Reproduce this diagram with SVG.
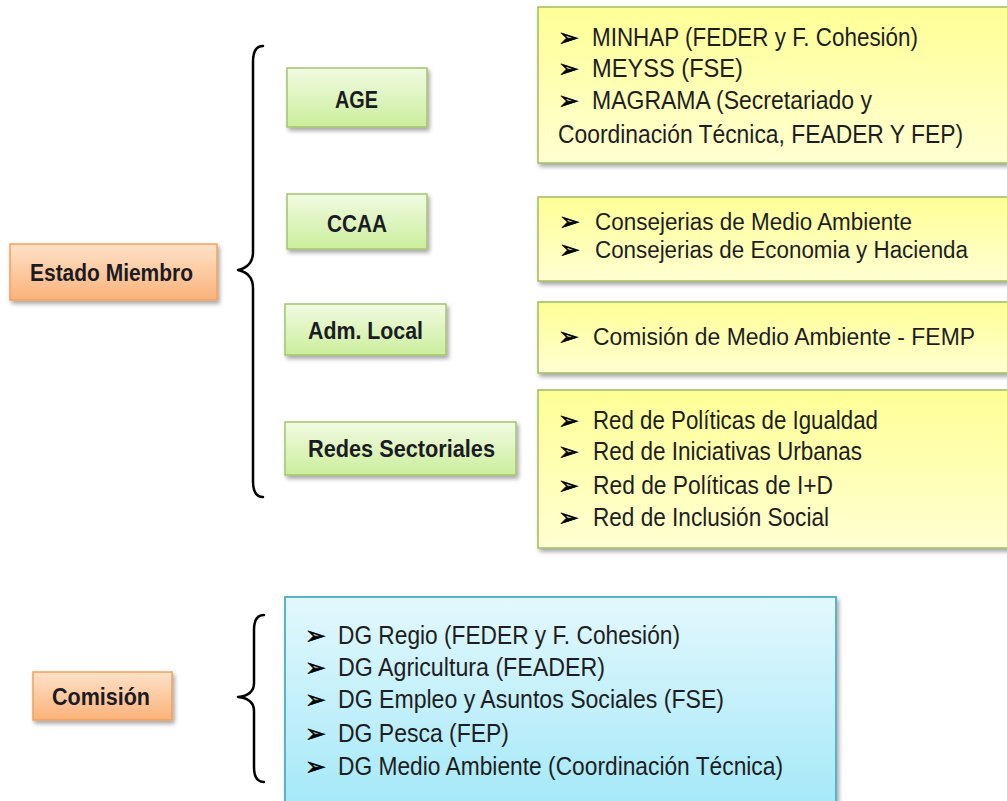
<svg xmlns="http://www.w3.org/2000/svg" width="1007" height="801" viewBox="0 0 1007 801">
  <defs>
    <linearGradient id="gOrange" x1="0" y1="0" x2="0" y2="1">
      <stop offset="0" stop-color="#fde2c8"/>
      <stop offset="1" stop-color="#fbb27a"/>
    </linearGradient>
    <linearGradient id="gGreen" x1="0" y1="0" x2="0" y2="1">
      <stop offset="0" stop-color="#f1fbe2"/>
      <stop offset="1" stop-color="#cbee9c"/>
    </linearGradient>
    <linearGradient id="gYellow" x1="0" y1="0" x2="0" y2="1">
      <stop offset="0" stop-color="#ffff96"/>
      <stop offset="1" stop-color="#ffffd2"/>
    </linearGradient>
    <linearGradient id="gBlue" x1="0" y1="0" x2="0" y2="1">
      <stop offset="0" stop-color="#e3f8fd"/>
      <stop offset="1" stop-color="#a3e8f8"/>
    </linearGradient>
    <filter id="shadow" x="-10%" y="-20%" width="125%" height="150%">
      <feDropShadow dx="2" dy="3" stdDeviation="2" flood-color="#000" flood-opacity="0.35"/>
    </filter>
  </defs>
  <style>
    .orange { fill: url(#gOrange); stroke: #f4a05a; stroke-width: 1.5; filter: url(#shadow); }
    .green { fill: url(#gGreen); stroke: #a5c46c; stroke-width: 1.5; filter: url(#shadow); }
    .yellow { fill: url(#gYellow); stroke: #9fbc62; stroke-width: 1.5; filter: url(#shadow); }
    .blue { fill: url(#gBlue); stroke: #5ab4c9; stroke-width: 2; filter: url(#shadow); }
    .lbl { font-family: "Liberation Sans", Arial, sans-serif; font-weight: bold; font-size: 23px; fill: #1b1b24; }
    .item { font-family: "Liberation Sans", Arial, sans-serif; font-size: 25px; fill: #1e1e22; }
    .item.sm { font-size: 23.5px; }
    .bul { font-family: "DejaVu Sans", sans-serif; font-size: 25px; fill: #000; stroke: #000; stroke-width: 0.6; }
    .brace { fill: none; stroke: #000; stroke-width: 2.5; stroke-linecap: round; stroke-linejoin: round; }
  </style>
  <rect width="1007" height="801" fill="#ffffff"/>

  <g id="connectors">
    <path class="brace" d="M263,46 C256,46 253,51 253,62 L253,252 C253,263 247,268 238,270 C247,272 253,277 253,288 L253,481 C253,492 256,497 263,497"/>
    <path class="brace" d="M264,615 C257,615 254,620 254,630 L254,683 C254,692 248,696 238,697 C248,698 254,702 254,711 L254,767 C254,777 257,782 264,782"/>
  </g>

  <g id="estado-miembro">
    <rect class="orange" x="10" y="244" width="207" height="56"/>
    <text class="lbl" x="30" y="281" textLength="163" lengthAdjust="spacingAndGlyphs">Estado Miembro</text>
  </g>

  <g id="comision">
    <rect class="orange" x="33" y="672" width="139" height="48"/>
    <text class="lbl" x="52" y="705" textLength="98" lengthAdjust="spacingAndGlyphs">Comisión</text>
  </g>

  <g id="age">
    <rect class="green" x="287" y="68" width="140" height="59"/>
    <text class="lbl" x="335" y="108" textLength="43" lengthAdjust="spacingAndGlyphs">AGE</text>
  </g>

  <g id="ccaa">
    <rect class="green" x="287" y="194" width="140" height="55"/>
    <text class="lbl" x="327" y="232" textLength="60" lengthAdjust="spacingAndGlyphs">CCAA</text>
  </g>

  <g id="adm-local">
    <rect class="green" x="285" y="304" width="161" height="51"/>
    <text class="lbl" x="308" y="339" textLength="115" lengthAdjust="spacingAndGlyphs">Adm. Local</text>
  </g>

  <g id="redes-sectoriales">
    <rect class="green" x="285" y="422" width="231" height="53"/>
    <text class="lbl" x="308" y="457" textLength="187" lengthAdjust="spacingAndGlyphs">Redes Sectoriales</text>
  </g>

  <g id="age-detail">
    <rect class="yellow" x="538" y="7" width="470" height="156"/>
    <text class="bul" x="558" y="46">➢</text>
    <text class="item" x="592" y="46" textLength="326" lengthAdjust="spacingAndGlyphs">MINHAP (FEDER y F. Cohesión)</text>
    <text class="bul" x="558" y="77">➢</text>
    <text class="item" x="592" y="77" textLength="151" lengthAdjust="spacingAndGlyphs">MEYSS (FSE)</text>
    <text class="bul" x="558" y="109">➢</text>
    <text class="item" x="592" y="109" textLength="280" lengthAdjust="spacingAndGlyphs">MAGRAMA (Secretariado y</text>
    <text class="item" x="558" y="143" textLength="405" lengthAdjust="spacingAndGlyphs">Coordinación  Técnica, FEADER Y FEP)</text>
  </g>

  <g id="ccaa-detail">
    <rect class="yellow" x="538" y="197" width="470" height="84"/>
    <text class="bul" x="559" y="230">➢</text>
    <text class="item sm" x="595" y="230" textLength="317" lengthAdjust="spacingAndGlyphs">Consejerias  de Medio Ambiente</text>
    <text class="bul" x="559" y="258">➢</text>
    <text class="item sm" x="595" y="258" textLength="373" lengthAdjust="spacingAndGlyphs">Consejerias  de Economia y Hacienda</text>
  </g>

  <g id="adm-local-detail">
    <rect class="yellow" x="538" y="302" width="470" height="71"/>
    <text class="bul" x="558" y="345">➢</text>
    <text class="item sm" x="593" y="345" textLength="382" lengthAdjust="spacingAndGlyphs">Comisión de Medio Ambiente - FEMP</text>
  </g>

  <g id="redes-detail">
    <rect class="yellow" x="538" y="390" width="470" height="158"/>
    <text class="bul" x="558" y="429">➢</text>
    <text class="item" x="593" y="429" textLength="285" lengthAdjust="spacingAndGlyphs">Red de Políticas  de Igualdad</text>
    <text class="bul" x="558" y="460">➢</text>
    <text class="item" x="593" y="460" textLength="269" lengthAdjust="spacingAndGlyphs">Red de Iniciativas  Urbanas</text>
    <text class="bul" x="558" y="494">➢</text>
    <text class="item" x="593" y="494" textLength="240" lengthAdjust="spacingAndGlyphs">Red de Políticas  de I+D</text>
    <text class="bul" x="558" y="526">➢</text>
    <text class="item" x="593" y="526" textLength="236" lengthAdjust="spacingAndGlyphs">Red de Inclusión  Social</text>
  </g>

  <g id="comision-detail">
    <rect class="blue" x="285" y="597" width="551" height="215"/>
    <text class="bul" x="305" y="644">➢</text>
    <text class="item" x="338" y="644" textLength="342" lengthAdjust="spacingAndGlyphs">DG Regio  (FEDER y F. Cohesión)</text>
    <text class="bul" x="305" y="676">➢</text>
    <text class="item" x="338" y="676" textLength="267" lengthAdjust="spacingAndGlyphs">DG Agricultura  (FEADER)</text>
    <text class="bul" x="305" y="708">➢</text>
    <text class="item" x="338" y="708" textLength="386" lengthAdjust="spacingAndGlyphs">DG Empleo y Asuntos Sociales  (FSE)</text>
    <text class="bul" x="305" y="742">➢</text>
    <text class="item" x="338" y="742" textLength="171" lengthAdjust="spacingAndGlyphs">DG Pesca (FEP)</text>
    <text class="bul" x="305" y="775">➢</text>
    <text class="item" x="338" y="775" textLength="445" lengthAdjust="spacingAndGlyphs">DG Medio Ambiente  (Coordinación  Técnica)</text>
  </g>
</svg>
